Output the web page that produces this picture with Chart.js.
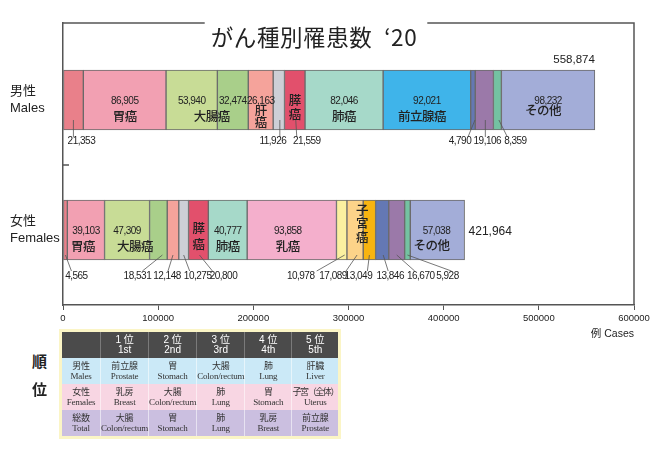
<!DOCTYPE html>
<html lang="ja">
<head>
<meta charset="UTF-8">
<title>がん種別罹患数 '20</title>
<script src="https://cdn.jsdelivr.net/npm/chart.js"></script>
<style>
  body { margin: 0; background: #fff; }
  #wrap { position: relative; width: 660px; height: 458px; overflow: hidden; }
  #chart { position: absolute; left: 0; top: 0; }
  .rank { position: absolute; left: 32px; font: bold 15px "Noto Sans CJK JP", sans-serif; color: #222; }
  table.order { position: absolute; left: 59px; top: 329px; border-collapse: collapse; border: 3px solid #fbf5c6; table-layout: fixed; }
  table.order td { padding: 0; text-align: center; vertical-align: middle; height: 26px; white-space: nowrap; overflow: visible; }
  table.order tr.head td { background: #4b4b4b; color: #fff; font: 10px/10px "Liberation Sans", "Noto Sans CJK JP", sans-serif; border-left: 1px solid #7a7a7a; height: 26px; }
  table.order tr.body td { font: 9px/10px "Liberation Serif", "Noto Sans CJK JP", serif; color: #333; border-left: 1px solid rgba(255,255,255,0.55); letter-spacing: -0.2px; }
  tr.m td { background: #cbe9f7; }
  tr.f td { background: #f8d6e3; }
  tr.t td { background: #cbbfe0; }
  .tight { letter-spacing: -1.4px; }
</style>
</head>
<body>
<div id="wrap">
  <canvas id="chart" width="660" height="340"></canvas>
  <div class="rank" style="top:350px">順</div>
  <div class="rank" style="top:378px">位</div>
  <table class="order" id="order"></table>
</div>

<script>
// data
const sexes = [['男性', 'Males'], ['女性', 'Females']];
const maleCases = [21353, 86905, 53940, 32474, 26163, 11926, 21559, 82046, 92021, null, null, null, null, 4790, 19106, 8359, 98232];
const femaleCases = [4565, 39103, 47309, 18531, 12148, 10275, 20800, 40777, null, 93858, 10978, 17089, 13049, 13846, 16670, 5928, 57038];
const xTicks = [0, 100000, 200000, 300000, 400000, 500000, 600000];

const rankHead = [['', ''], ['1 位', '1st'], ['2 位', '2nd'], ['3 位', '3rd'], ['4 位', '4th'], ['5 位', '5th']];
const rankMales = [['男性', 'Males'], ['前立腺', 'Prostate'], ['胃', 'Stomach'], ['大腸', 'Colon/rectum'], ['肺', 'Lung'], ['肝臓', 'Liver']];
const rankFemales = [['女性', 'Females'], ['乳房', 'Breast'], ['大腸', 'Colon/rectum'], ['肺', 'Lung'], ['胃', 'Stomach'], ['子宮（全体）', 'Uterus']];
const rankTotal = [['総数', 'Total'], ['大腸', 'Colon/rectum'], ['胃', 'Stomach'], ['肺', 'Lung'], ['乳房', 'Breast'], ['前立腺', 'Prostate']];

const colors = ['#e9808a', '#f2a0b2', '#c8dc96', '#a9cf8a', '#f5a39b', '#cdcfd6', '#e2506c', '#a6d9c9',
                '#3fb4ea', '#f4afcc', '#fbf0a0', '#fdd389', '#f8b410', '#6478b4', '#9b79a9', '#74c2a2', '#a3add8'];

// labels inside the bars
const insideLabels = [
  [
    { ds: 1, num: true, name: '胃癌' },
    { ds: 2, num: true, name: '大腸癌', nameDx: 20 },
    { ds: 3, num: true },
    { ds: 4, num: true, vert: '肝癌', vDy: 10, step: 12 },
    { ds: 6, vert: '膵癌', vDy: 0, step: 14 },
    { ds: 7, num: true, name: '肺癌' },
    { ds: 8, num: true, name: '前立腺癌', nameDx: -5 },
    { ds: 16, num: true, name: 'その他', nameDx: -5, nameDy: 10 }
  ],
  [
    { ds: 1, num: true, name: '胃癌', nameDx: -3 },
    { ds: 2, num: true, name: '大腸癌', nameDx: 8 },
    { ds: 6, vert: '膵癌', vDy: -2, step: 16 },
    { ds: 7, num: true, name: '肺癌' },
    { ds: 9, num: true, name: '乳癌', dx: -4, nameDx: -4 },
    { ds: 11, vert: '子宮癌', dx: 7, vDy: -20, step: 13.5 },
    { ds: 16, num: true, name: 'その他', dx: -1, nameDx: -6, nameDy: 15 }
  ]
];
// numbers under the bars: [dataset, line top dx, line bottom dx, text dx]
const callouts = [
  [[0, 0, 0, 8], [5, 1, 1, -6], [6, 1, 2, 12], [13, 2, -5, -13], [14, 1, 1, 3], [15, 1.5, 10, 18]],
  [[0, 0, 6, 11], [3, 4, -16, -21], [4, 0, -5, -6], [5, 0, 6, 14], [6, 1, 14, 25], [10, 3, -25, -41],
   [11, 2, -9, -22], [12, 0, -2, -11], [13, 1, 6, 8], [14, 0, 18, 24], [15, 0, 44, 40]]
];
const calloutY = [[20, 37, 41], [25, 41, 46]];

const fmt = v => v.toLocaleString('en-US');
const numFont = '10px "Liberation Sans", sans-serif';
const jpFont = '500 12.5px "Noto Sans CJK JP", sans-serif';

function barFor(chart, ds, s) {
  const i = chart.data.datasets[ds].data.findIndex(p => p.y === s);
  return chart.getDatasetMeta(ds).data[i];
}

const overlay = {
  id: 'overlay',
  afterDraw(chart) {
    const { ctx, chartArea: a, scales } = chart;
    ctx.save();
    ctx.textBaseline = 'middle';
    ctx.fillStyle = '#222';

    // title + frame
    const title = 'がん種別罹患数\u2002‘20';
    ctx.font = '22.5px "Noto Sans CJK JP", sans-serif';
    ctx.letterSpacing = '0.6px';
    const tw = ctx.measureText(title).width;
    const tx = 314;
    ctx.textAlign = 'center';
    ctx.fillText(title, tx, 37);
    ctx.strokeStyle = '#555';
    ctx.lineWidth = 1.5;
    ctx.beginPath();
    ctx.moveTo(a.left, a.top); ctx.lineTo(tx - tw / 2 - 6, a.top);
    ctx.moveTo(tx + tw / 2 + 10, a.top); ctx.lineTo(a.right, a.top); ctx.lineTo(a.right, a.bottom);
    const ym = scales.y.getPixelForValue(0.5);
    ctx.moveTo(a.left, ym); ctx.lineTo(a.left + 6, ym);
    ctx.stroke();

    ctx.letterSpacing = '-0.5px';
    for (let s = 0; s < 2; s++) {
      // inside labels
      insideLabels[s].forEach(l => {
        const el = barFor(chart, l.ds, s);
        const cx = (el.x + el.base) / 2 + (l.dx || 0);
        const cy = el.y;
        if (l.num) {
          ctx.font = numFont;
          ctx.fillText(fmt(chart.data.datasets[l.ds].data.find(p => p.y === s).x), cx, cy + 1);
        }
        ctx.font = jpFont;
        if (l.name) ctx.fillText(l.name, cx + (l.nameDx || 0) - (l.dx || 0), cy + (l.nameDy || 16));
        if (l.vert) {
          [...l.vert].forEach((ch, k) => ctx.fillText(ch, cx, cy + l.vDy + k * l.step));
        }
      });
      // callouts
      const [y1, y2, y3] = calloutY[s];
      ctx.strokeStyle = '#555';
      ctx.lineWidth = 0.8;
      ctx.font = numFont;
      callouts[s].forEach(([ds, d1, d2, d3]) => {
        const el = barFor(chart, ds, s);
        const cx = (el.x + el.base) / 2;
        ctx.beginPath();
        ctx.moveTo(cx + d1, el.y + y1);
        ctx.lineTo(cx + d2, el.y + y2);
        ctx.stroke();
        ctx.fillText(fmt(chart.data.datasets[ds].data.find(p => p.y === s).x), cx + d3, el.y + y3);
      });
    }

    // totals
    ctx.letterSpacing = '0px';
    const totals = [maleCases, femaleCases].map(arr => arr.reduce((t, v) => t + (v || 0), 0));
    const last = colors.length - 1;
    const mEnd = barFor(chart, last, 0);
    const fEnd = barFor(chart, last, 1);
    ctx.font = '11.5px "Liberation Sans", sans-serif';
    ctx.textAlign = 'right';
    ctx.fillText(fmt(totals[0]), mEnd.x, mEnd.y - 40);
    ctx.font = '12px "Liberation Sans", sans-serif';
    ctx.textAlign = 'left';
    ctx.fillText(fmt(totals[1]), fEnd.x + 4, fEnd.y + 2);
    ctx.restore();
  }
};

const datasets = colors.map((c, i) => ({
  data: [maleCases[i], femaleCases[i]]
    .map((v, s) => ({ x: v, y: s }))
    .filter(p => p.x !== null),
  backgroundColor: c,
  borderColor: '#6a6a6a',
  borderWidth: 1,
  borderSkipped: false,
  barThickness: 60
}));

new Chart(document.getElementById('chart'), {
  type: 'bar',
  data: { datasets },
  options: {
    indexAxis: 'y',
    responsive: false,
    animation: false,
    layout: { padding: { top: 23, right: 26, left: 10, bottom: 0 } },
    plugins: { legend: { display: false }, tooltip: { enabled: false } },
    scales: {
      x: {
        type: 'linear',
        stacked: true,
        min: 0,
        max: 600000,
        afterBuildTicks: sc => { sc.ticks = xTicks.map(v => ({ value: v })); },
        afterFit: sc => { sc.height = 35; },
        ticks: {
          callback: v => String(v),
          font: { family: 'Liberation Sans', size: 9.5 },
          color: '#222',
          padding: 3,
          maxRotation: 0
        },
        grid: { drawOnChartArea: false, tickLength: 5, color: '#555' },
        border: { color: '#555', width: 1.5 },
        title: {
          display: true,
          text: '例 Cases',
          align: 'end',
          color: '#222',
          font: { family: 'Liberation Sans, Noto Sans CJK JP', size: 10.5 },
          padding: { top: 0, bottom: 0 }
        }
      },
      y: {
        type: 'linear',
        stacked: true,
        reverse: true,
        offset: false,
        min: -77 / 130,
        max: 1 + 75 / 130,
        afterBuildTicks: sc => { sc.ticks = sexes.map((_, i) => ({ value: i })); },
        afterFit: sc => { sc.width = 53; },
        ticks: {
          callback: v => sexes[v],
          crossAlign: 'far',
          color: '#222',
          font: { family: 'Liberation Sans, Noto Sans CJK JP', size: 13, lineHeight: 1.25 }
        },
        grid: { drawOnChartArea: false, drawTicks: false, offset: false },
        border: { color: '#555', width: 1.5 }
      }
    }
  },
  plugins: [overlay]
});

// ranking table
const table = document.getElementById('order');
const widths = [38, 46, 46, 46, 46, 46];
[[rankHead, 'head'], [rankMales, 'body m'], [rankFemales, 'body f'], [rankTotal, 'body t']].forEach(([row, cls]) => {
  const tr = document.createElement('tr');
  tr.className = cls;
  row.forEach((cell, i) => {
    const td = document.createElement('td');
    td.style.width = widths[i] + 'px';
    const jp = cell[0].length > 4 ? '<span class="tight">' + cell[0] + '</span>' : cell[0];
    td.innerHTML = jp + '<br>' + cell[1];
    tr.appendChild(td);
  });
  table.appendChild(tr);
});
</script>
</body>
</html>
